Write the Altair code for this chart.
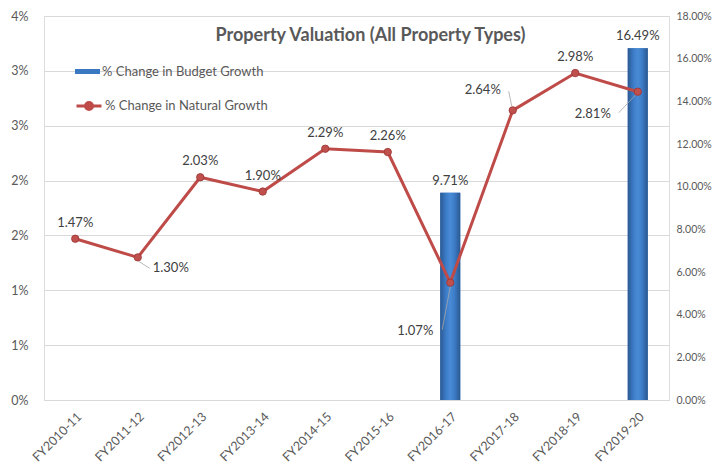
import json
import altair as alt
import pandas as pd

categories = ["FY2010-11", "FY2011-12", "FY2012-13", "FY2013-14", "FY2014-15",
              "FY2015-16", "FY2016-17", "FY2017-18", "FY2018-19", "FY2019-20"]
natural_growth = [0.0147, 0.0130, 0.0203, 0.0190, 0.0229, 0.0226, 0.0107, 0.0264, 0.0298, 0.0281]
budget_growth = [None, None, None, None, None, None, 0.0971, None, None, 0.1649]
left_tick_values = [0, 0.005, 0.01, 0.015, 0.02, 0.025, 0.03, 0.035]
left_tick_labels = ["0%", "1%", "1%", "2%", "2%", "3%", "3%", "4%"]
right_tick_values = [0, 0.02, 0.04, 0.06, 0.08, 0.10, 0.12, 0.14, 0.16, 0.18]
series_budget = "% Change in Budget Growth"
series_natural = "% Change in Natural Growth"
title_text = "Property Valuation (All Property Types)"

df = pd.DataFrame({"cat": categories, "natural": natural_growth, "budget": budget_growth})
df["nser"] = series_natural
df["bser"] = series_budget

FONT = "Lato"
AX = "#595959"
LBL = "#404040"

base = alt.Chart(df)

x_enc = alt.X("cat:N", sort=categories,
              scale=alt.Scale(paddingInner=0, paddingOuter=0),
              axis=alt.Axis(title=None, labelAngle=-45, labelAlign="right", labelBaseline="top",
                            labelFontSize=12.5, labelColor=AX, labelFont=FONT, ticks=False,
                            domainColor="#d9d9d9", labelPadding=10))

label_expr = json.dumps(left_tick_labels) + "[round(datum.value*200)]"
y_left = alt.Y("natural:Q", scale=alt.Scale(domain=[0, 0.035], nice=False, zero=True),
               axis=alt.Axis(title=None, values=left_tick_values, labelExpr=label_expr,
                             grid=True, gridColor="#d9d9d9", domain=False, ticks=False,
                             labelPadding=16, labelFontSize=12.5, labelColor=AX, labelFont=FONT))
y_left2 = alt.Y2("natural")

y_right = alt.Y("budget:Q", scale=alt.Scale(domain=[0, 0.18], nice=False, zero=True),
                axis=alt.Axis(title=None, orient="right", values=right_tick_values, format=".2%",
                              grid=False, domain=False, ticks=False, labelPadding=7,
                              labelFontSize=10.5, labelColor=AX, labelFont=FONT))

bar_path = "M-1,-0.2L1,-0.2L1,0.2L-1,0.2Z"
line_path = ("M-1,0L1,0M-0.28,0A0.28,0.28 0 1,0 0.28,0A0.28,0.28 0 1,0 -0.28,0")

bars_valid = base.transform_filter("isValid(datum.budget)")

bars = bars_valid.mark_bar(size=20).encode(
    x=x_enc, y=y_right,
    fill=alt.Fill("bser:N", scale=alt.Scale(range=["#3b78c2"]),
                  legend=alt.Legend(title=None, orient="none", legendX=31, legendY=43,
                                    symbolType=bar_path, symbolSize=625, symbolStrokeWidth=0,
                                    labelFontSize=13, labelColor=AX, labelFont=FONT,
                                    labelOffset=2, labelLimit=400)),
)
grad = alt.LinearGradient(gradient="linear", x1=0, x2=1, y1=0, y2=0, stops=[
    alt.GradientStop(color="#2b5a93", offset=0),
    alt.GradientStop(color="#3d7dc9", offset=0.3),
    alt.GradientStop(color="#4a8bd6", offset=0.5),
    alt.GradientStop(color="#3d7dc9", offset=0.7),
    alt.GradientStop(color="#2a5890", offset=1),
])
bars_grad = bars_valid.mark_bar(size=20, fill=grad).encode(x=x_enc, y=y_right)
bar_labels = bars_valid.mark_text(dy=-12, fontSize=13, color=LBL, font=FONT).encode(
    x=x_enc, y=y_right, text=alt.Text("budget:Q", format=".2%"))

right_layer = alt.layer(bars, bars_grad, bar_labels)

line = base.mark_line(strokeWidth=3).encode(
    x=x_enc, y=y_left,
    stroke=alt.Stroke("nser:N", scale=alt.Scale(range=["#be4b48"]),
                      legend=alt.Legend(title=None, orient="none", legendX=31, legendY=76,
                                        symbolType=line_path, symbolSize=625,
                                        symbolStrokeWidth=3, symbolFillColor="#c0504d",
                                        labelFontSize=13, labelColor=AX, labelFont=FONT,
                                        labelOffset=2, labelLimit=400)),
)
points = base.mark_circle(size=55, color="#c0504d", stroke="#9b3532", strokeWidth=0.8,
                          opacity=1).encode(x=x_enc, y=y_left)


def nlabel(cats, dx, dy):
    return base.transform_filter(alt.FieldOneOfPredicate(field="cat", oneOf=cats)).mark_text(
        dx=dx, dy=dy, fontSize=13, color=LBL, font=FONT).encode(
        x=x_enc, y=y_left, text=alt.Text("natural:Q", format=".2%"))


def leader(cat, x1, y1, x2, y2):
    return base.transform_filter(alt.FieldEqualPredicate(field="cat", equal=cat)).mark_rule(
        color="#a6a6a6", strokeWidth=0.8, xOffset=x1, yOffset=y1, x2Offset=x2, y2Offset=y2).encode(
        x=x_enc, x2=alt.X2("cat", bandPosition=0.5), y=y_left, y2=y_left2)


labels = [
    nlabel(["FY2010-11", "FY2012-13", "FY2013-14", "FY2014-15", "FY2015-16", "FY2018-19"], 0, -16),
    nlabel(["FY2011-12"], 33, 11),
    nlabel(["FY2016-17"], -35, 48),
    nlabel(["FY2017-18"], -30, -20),
    nlabel(["FY2019-20"], -45, 22),
]
leaders = [
    leader("FY2011-12", 1, 4, 12, 11),
    leader("FY2016-17", 0, 4, -8, 47),
    leader("FY2017-18", -1, -4, -4, -19),
    leader("FY2019-20", -2, 3, -19, 21),
]

left_layer = alt.layer(line, *leaders, points, *labels)

chart = alt.layer(right_layer, left_layer).resolve_scale(
    y="independent", fill="independent", stroke="independent"
).properties(
    width=625, height=384,
    title=alt.Title(title_text, fontSize=18, fontWeight="bold", color=AX, font=FONT,
                    anchor="middle", offset=-35, dx=14),
    autosize=alt.AutoSizeParams(type="none"),
    padding={"left": 44, "top": 16, "right": 52, "bottom": 63},
).configure_view(stroke=None).configure(background="white")

chart.save("out.html", embed_options={"renderer": "svg", "actions": False})
